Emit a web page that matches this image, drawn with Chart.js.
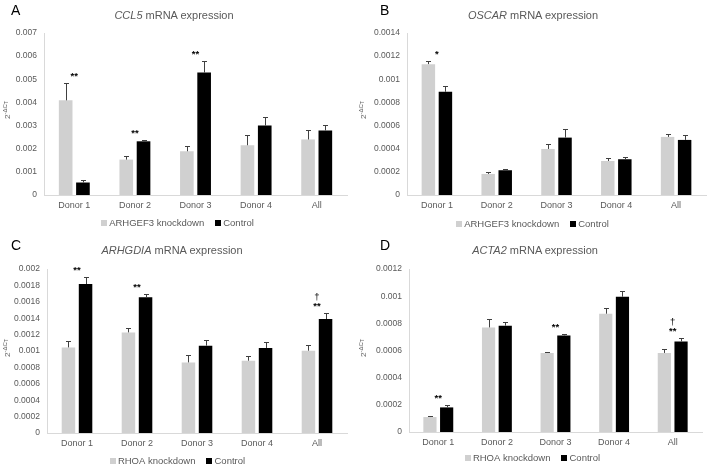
<!DOCTYPE html>
<html>
<head>
<meta charset="utf-8">
<script src="https://cdn.jsdelivr.net/npm/chart.js@4.4.1/dist/chart.umd.min.js"></script>
<style>
  html, body { margin:0; padding:0; background:#fff; }
  body { width:711px; height:466px; position:relative; overflow:hidden; font-family:"Liberation Sans", Arial, sans-serif; }
  .pane { position:absolute; width:355px; height:233px; }
  .pane canvas { position:absolute; left:0; top:0; }
  .letter { position:absolute; font-size:14px; color:#000; line-height:1; }
  .title { position:absolute; font-size:11px; color:#595959; white-space:nowrap; transform:translate(-50%,-50%); line-height:1; }
  .ylab { position:absolute; font-size:8px; color:#595959; white-space:nowrap; transform:translate(-50%,-50%) rotate(-90deg); line-height:1; }
  .ylab sup { font-size:6px; vertical-align:3px; }
  .ylab sub { font-size:5px; vertical-align:-1px; }
</style>
</head>
<body>
<script>
// ---------- data ----------
const categories = ['Donor 1', 'Donor 2', 'Donor 3', 'Donor 4', 'All'];

const ccl5Knockdown    = [0.00409, 0.00153, 0.00189, 0.00215, 0.00240];
const ccl5KnockdownErr = [0.00075, 0.00016, 0.00024, 0.00045, 0.00042];
const ccl5Control      = [0.00054, 0.00232, 0.00529, 0.00300, 0.00279];
const ccl5ControlErr   = [0.00009, 0.00007, 0.00050, 0.00036, 0.00024];
const ccl5Marks        = ['**', '**', '**', '', ''];
const ccl5Daggers      = ['', '', '', '', ''];

const oscarKnockdown    = [0.001131, 0.000182, 0.000398, 0.000294, 0.000502];
const oscarKnockdownErr = [0.000023, 0.000017, 0.000042, 0.000024, 0.000026];
const oscarControl      = [0.000892, 0.000214, 0.000496, 0.000309, 0.000476];
const oscarControlErr   = [0.000052, 0.000008, 0.000073, 0.000017, 0.000043];
const oscarMarks        = ['*', '', '', '', ''];
const oscarDaggers      = ['', '', '', '', ''];

const arhgdiaKnockdown    = [0.001044, 0.001227, 0.000861, 0.000882, 0.001004];
const arhgdiaKnockdownErr = [0.000073, 0.000053, 0.000094, 0.000061, 0.000073];
const arhgdiaControl      = [0.001817, 0.001654, 0.001065, 0.001037, 0.001390];
const arhgdiaControlErr   = [0.000083, 0.000046, 0.000069, 0.000068, 0.000073];
const arhgdiaMarks        = ['**', '**', '', '', '**'];
const arhgdiaDaggers      = ['', '', '', '', '†'];

const acta2Knockdown    = [0.000110, 0.000770, 0.000582, 0.000871, 0.000582];
const acta2KnockdownErr = [0.000008, 0.000062, 0.000007, 0.000042, 0.000031];
const acta2Control      = [0.000181, 0.000783, 0.000711, 0.000996, 0.000667];
const acta2ControlErr   = [0.000018, 0.000027, 0.000011, 0.000044, 0.000025];
const acta2Marks        = ['**', '', '**', '', '**'];
const acta2Daggers      = ['', '', '', '', '†'];

const arhgef3Label = 'ARHGEF3 knockdown';
const rhoaLabel = 'RHOA knockdown';
const controlLabel = 'Control';

// ---------- layout ----------
const FONT = '"Liberation Sans", Arial, sans-serif';
const panels = [
  { letter:'A', gene:'CCL5', left:0, top:0, kd:ccl5Knockdown, kdErr:ccl5KnockdownErr, ctrl:ccl5Control, ctrlErr:ccl5ControlErr,
    marks:ccl5Marks, daggers:ccl5Daggers, kdLabel:arhgef3Label, max:0.007, step:0.001,
    area:{l:44, r:347, t:33, b:195}, legendY:223, titleX:174, titleY:15, ylabX:7, ylabY:110, letterX:11, letterY:3 },
  { letter:'B', gene:'OSCAR', left:355, top:0, kd:oscarKnockdown, kdErr:oscarKnockdownErr, ctrl:oscarControl, ctrlErr:oscarControlErr,
    marks:oscarMarks, daggers:oscarDaggers, kdLabel:arhgef3Label, max:0.0014, step:0.0002,
    area:{l:52, r:351, t:33, b:195}, legendY:224, titleX:178, titleY:15, ylabX:8, ylabY:110, letterX:25, letterY:3 },
  { letter:'C', gene:'ARHGDIA', left:0, top:233, kd:arhgdiaKnockdown, kdErr:arhgdiaKnockdownErr, ctrl:arhgdiaControl, ctrlErr:arhgdiaControlErr,
    marks:arhgdiaMarks, daggers:arhgdiaDaggers, kdLabel:rhoaLabel, max:0.002, step:0.0002,
    area:{l:47, r:347, t:36, b:200}, legendY:228, titleX:172, titleY:17, ylabX:7, ylabY:115, letterX:11, letterY:5 },
  { letter:'D', gene:'ACTA2', left:355, top:233, kd:acta2Knockdown, kdErr:acta2KnockdownErr, ctrl:acta2Control, ctrlErr:acta2ControlErr,
    marks:acta2Marks, daggers:acta2Daggers, kdLabel:rhoaLabel, max:0.0012, step:0.0002,
    area:{l:54, r:347, t:36, b:199}, legendY:225, titleX:180, titleY:17, ylabX:8, ylabY:115, letterX:25, letterY:5 }
];

const errorBarPlugin = {
  id: 'errorBars',
  afterDatasetsDraw(chart) {
    const ctx = chart.ctx, ys = chart.scales.y, xs = chart.scales.x;
    const p = chart.options.plugins.errorBars;
    ctx.save();
    ctx.strokeStyle = '#404040';
    ctx.lineWidth = 1;
    const tops = [];
    chart.data.datasets.forEach((ds, i) => {
      const meta = chart.getDatasetMeta(i);
      meta.data.forEach((bar, j) => {
        const topPx = ys.getPixelForValue(ds.data[j] + ds.errors[j]);
        tops[j] = Math.min(tops[j] === undefined ? Infinity : tops[j], topPx);
        const x = Math.round(bar.x) + 0.5;
        ctx.beginPath();
        ctx.moveTo(x, bar.y);
        ctx.lineTo(x, Math.round(topPx) + 0.5);
        ctx.moveTo(x - 2.5, Math.round(topPx) + 0.5);
        ctx.lineTo(x + 2.5, Math.round(topPx) + 0.5);
        ctx.stroke();
      });
    });
    ctx.fillStyle = '#000';
    ctx.textAlign = 'center';
    ctx.textBaseline = 'alphabetic';
    p.marks.forEach((m, j) => {
      if (!m) return;
      const x = xs.getPixelForValue(j);
      ctx.font = 'bold 9.5px ' + FONT;
      ctx.fillText(m, x, tops[j] - 4);
      if (p.daggers[j]) {
        ctx.font = '9.5px ' + FONT;
        ctx.fillText(p.daggers[j], x, tops[j] - 13);
      }
    });
    ctx.restore();
  }
};

const legendPlugin = {
  id: 'bottomLegend',
  afterDraw(chart) {
    const ctx = chart.ctx;
    const y = chart.options.plugins.bottomLegend.y;
    ctx.save();
    ctx.font = '9.5px ' + FONT;
    ctx.textBaseline = 'middle';
    const box = 6, gapBox = 2, gapItem = 11;
    const items = chart.data.datasets.map(ds => ({ label: ds.label, color: ds.backgroundColor }));
    let total = 0;
    items.forEach((it, k) => { it.w = box + gapBox + ctx.measureText(it.label).width; total += it.w + (k ? gapItem : 0); });
    let x = chart.width / 2 - total / 2;
    items.forEach(it => {
      ctx.fillStyle = it.color;
      ctx.fillRect(Math.round(x), Math.round(y - box / 2), box, box);
      ctx.fillStyle = '#595959';
      ctx.textAlign = 'left';
      ctx.fillText(it.label, x + box + gapBox, y + 0.5);
      x += it.w + gapItem;
    });
    ctx.restore();
  }
};

function fmt(v) {
  if (Math.abs(v) < 1e-12) return '0';
  return String(parseFloat(v.toFixed(6)));
}

panels.forEach(P => {
  const pane = document.createElement('div');
  pane.className = 'pane';
  pane.style.left = P.left + 'px';
  pane.style.top = P.top + 'px';
  document.body.appendChild(pane);

  const canvas = document.createElement('canvas');
  canvas.width = 355; canvas.height = 233;
  canvas.style.width = '355px'; canvas.style.height = '233px';
  pane.appendChild(canvas);

  const letter = document.createElement('div');
  letter.className = 'letter';
  letter.textContent = P.letter;
  letter.style.left = P.letterX + 'px';
  letter.style.top = P.letterY + 'px';
  pane.appendChild(letter);

  const title = document.createElement('div');
  title.className = 'title';
  title.innerHTML = '<i>' + P.gene + '</i> mRNA expression';
  title.style.left = P.titleX + 'px';
  title.style.top = P.titleY + 'px';
  pane.appendChild(title);

  const ylab = document.createElement('div');
  ylab.className = 'ylab';
  ylab.innerHTML = '2<sup>-ΔC<sub>T</sub></sup>';
  ylab.style.left = P.ylabX + 'px';
  ylab.style.top = P.ylabY + 'px';
  pane.appendChild(ylab);

  const A = P.area;
  new Chart(canvas, {
    type: 'bar',
    data: {
      labels: categories,
      datasets: [
        { label: P.kdLabel, data: P.kd, errors: P.kdErr, backgroundColor: '#d0d0d0', borderWidth: 0 },
        { label: controlLabel, data: P.ctrl, errors: P.ctrlErr, backgroundColor: '#000000', borderWidth: 0 }
      ]
    },
    options: {
      responsive: false,
      devicePixelRatio: 1,
      animation: false,
      categoryPercentage: 0.57,
      barPercentage: 0.79,
      layout: { padding: { left: 0, right: 355 - A.r, top: A.t, bottom: 0 } },
      plugins: {
        legend: { display: false },
        title: { display: false },
        tooltip: { enabled: false },
        errorBars: { marks: P.marks, daggers: P.daggers },
        bottomLegend: { y: P.legendY }
      },
      scales: {
        x: {
          grid: { display: false, drawTicks: false },
          border: { display: true, color: '#d9d9d9', width: 1 },
          ticks: { color: '#595959', font: { family: FONT, size: 9 }, padding: 5, maxRotation: 0, autoSkip: false },
          afterFit: s => { s.height = 233 - A.b; }
        },
        y: {
          min: 0, max: P.max,
          grid: { display: false, drawTicks: false },
          border: { display: true, color: '#d9d9d9', width: 1 },
          ticks: { stepSize: P.step, color: '#595959', font: { family: FONT, size: 8.5 }, padding: 7, callback: v => fmt(v) },
          afterFit: s => { s.width = A.l; }
        }
      }
    },
    plugins: [errorBarPlugin, legendPlugin]
  });
});
</script>
</body>
</html>
